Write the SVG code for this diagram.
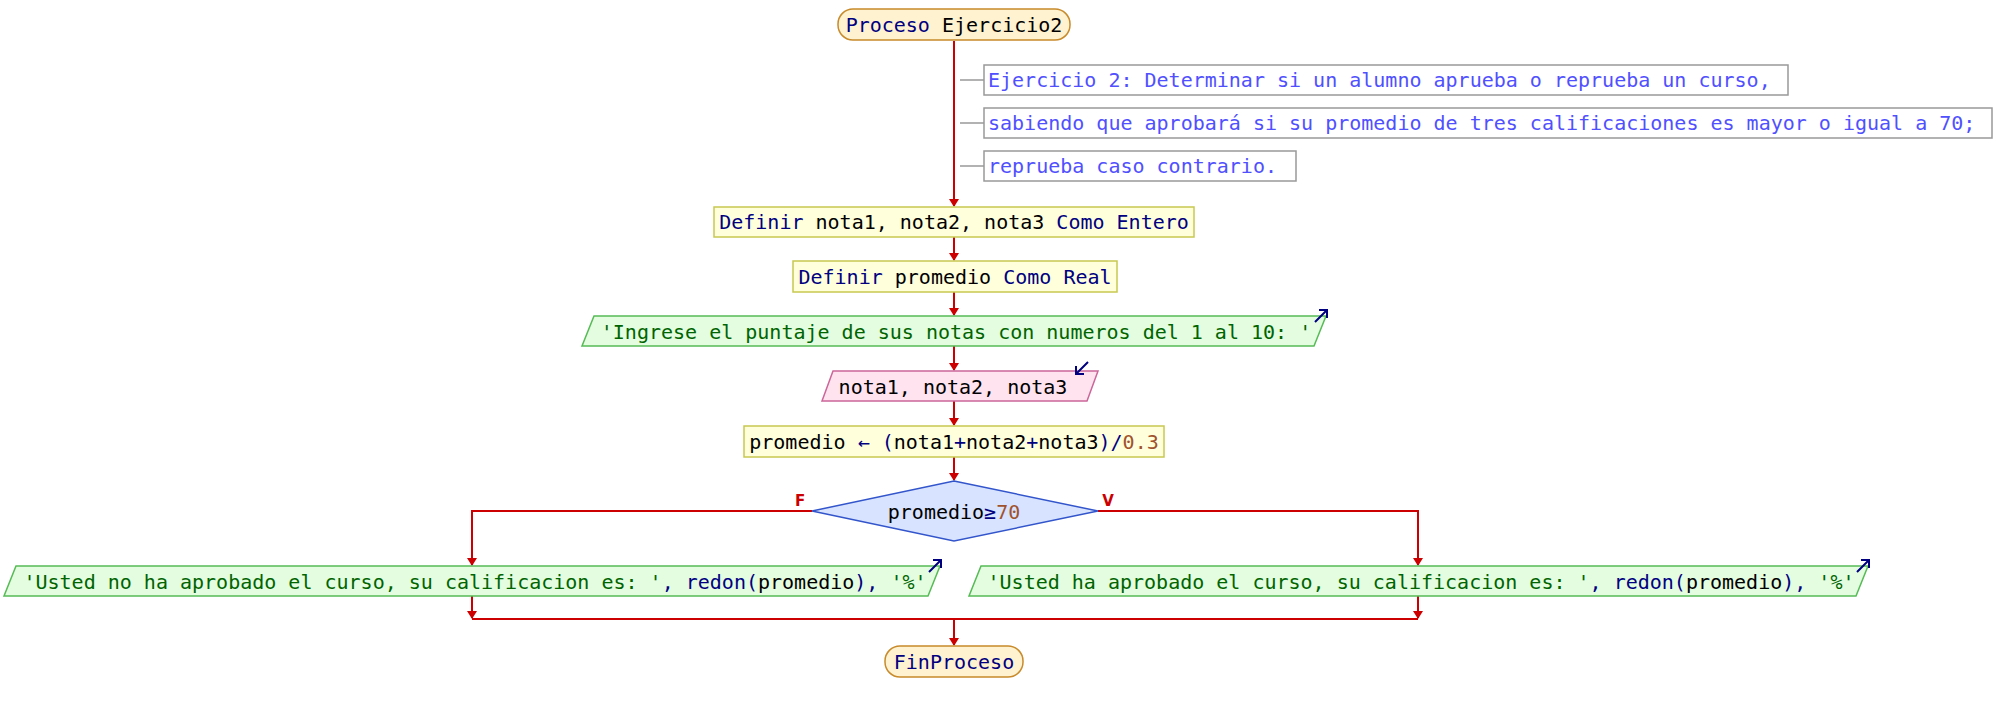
<svg xmlns="http://www.w3.org/2000/svg" width="2002" height="711" viewBox="0 0 2002 711">
<style>
text{font-family:"DejaVu Sans Mono","Liberation Mono",monospace;font-size:20px;fill:#000}
.c{text-anchor:middle}
.kw{fill:#000080}
.st{fill:#006400}
.nm{fill:#a0522d}
.cm{fill:#5050ff}
.term{fill:#fff2d0;stroke:#c88a2a;stroke-width:1.5}
.proc{fill:#ffffdc;stroke:#c8c850;stroke-width:1.5}
.out{fill:#e4fce0;stroke:#55bb55;stroke-width:1.5}
.in{fill:#ffe4f0;stroke:#cc6699;stroke-width:1.5}
.dec{fill:#d7e3ff;stroke:#3355cc;stroke-width:1.5}
.cbox{fill:#fff;stroke:#999;stroke-width:1.5}
.tick{stroke:#999;stroke-width:1.5}
.flow{fill:none;stroke:#cc0000;stroke-width:2}
.ico{fill:none;stroke:#000080;stroke-width:2}
.lbl{font-family:"DejaVu Sans","Liberation Sans",sans-serif;font-size:15px;font-weight:bold;fill:#cc0000}
</style>

<g id="connectors">
<path class="flow" d="M954,41 V206"/>
<path class="flow" d="M954,237 V260"/>
<path class="flow" d="M954,292 V315"/>
<path class="flow" d="M954,346 V370"/>
<path class="flow" d="M954,401 V425"/>
<path class="flow" d="M954,457 V480"/>
<path class="flow" d="M812,511 H472 V565"/>
<path class="flow" d="M1098,511 H1418 V565"/>
<path class="flow" d="M472,596 V618"/>
<path class="flow" d="M1418,596 V618"/>
<path class="flow" d="M472,619 H1418"/>
<path class="flow" d="M954,619 V645"/>
<g fill="#cc0000">
<path d="M949,199 L959,199 L954,207 Z"/>
<path d="M949,253 L959,253 L954,261 Z"/>
<path d="M949,308 L959,308 L954,316 Z"/>
<path d="M949,363 L959,363 L954,371 Z"/>
<path d="M949,418 L959,418 L954,426 Z"/>
<path d="M949,473 L959,473 L954,481 Z"/>
<path d="M467,558 L477,558 L472,566 Z"/>
<path d="M1413,558 L1423,558 L1418,566 Z"/>
<path d="M467,611 L477,611 L472,619 Z"/>
<path d="M1413,611 L1423,611 L1418,619 Z"/>
<path d="M949,638 L959,638 L954,646 Z"/>
</g>
<text class="lbl" x="800" y="506" text-anchor="middle">F</text>
<text class="lbl" x="1108" y="506" text-anchor="middle">V</text>
<path class="tick" d="M960,80 H984 M960,123 H984 M960,166 H984"/>
</g>

<g id="start">
<rect class="term" x="838" y="9" width="232" height="31" rx="15"/>
<text class="c" x="954" y="31.5"><tspan class="kw">Proceso</tspan> Ejercicio2</text>
</g>

<g id="comment1">
<rect class="cbox" x="984" y="65" width="804" height="30"/>
<text class="cm" x="988" y="87">Ejercicio 2: Determinar si un alumno aprueba o reprueba un curso,</text>
</g>
<g id="comment2">
<rect class="cbox" x="984" y="108" width="1008" height="30"/>
<text class="cm" x="988" y="130">sabiendo que aprobará si su promedio de tres calificaciones es mayor o igual a 70;</text>
</g>
<g id="comment3">
<rect class="cbox" x="984" y="151" width="312" height="30"/>
<text class="cm" x="988" y="173">reprueba caso contrario.</text>
</g>

<g id="def1">
<rect class="proc" x="714" y="207" width="480" height="30"/>
<text class="c" x="954" y="229"><tspan class="kw">Definir</tspan> nota1, nota2, nota3 <tspan class="kw">Como Entero</tspan></text>
</g>

<g id="def2">
<rect class="proc" x="793" y="261" width="324" height="31"/>
<text class="c" x="955" y="283.5"><tspan class="kw">Definir</tspan> promedio <tspan class="kw">Como Real</tspan></text>
</g>

<g id="write1">
<path class="out" d="M594,316 H1326 L1314,346 H582 Z"/>
<text class="c st" x="956" y="338.5">'Ingrese el puntaje de sus notas con numeros del 1 al 10: '</text>
<path class="ico" d="M1315,322 L1327,310 M1319,310 H1327 V318"/>
</g>

<g id="read1">
<path class="in" d="M833,371 H1098 L1087,401 H822 Z"/>
<text class="c" x="953" y="393.5">nota1, nota2, nota3</text>
<path class="ico" d="M1088,362 L1076,374 M1076,366 V374 H1084"/>
</g>

<g id="assign1">
<rect class="proc" x="744" y="426" width="420" height="31"/>
<text class="c" x="954" y="448.5">promedio <tspan class="kw">←</tspan> <tspan class="kw">(</tspan>nota1<tspan class="kw">+</tspan>nota2<tspan class="kw">+</tspan>nota3<tspan class="kw">)/</tspan><tspan class="nm">0.3</tspan></text>
</g>

<g id="decision">
<path class="dec" d="M954,481 L1098,511 L954,541 L812,511 Z"/>
<text class="c" x="954" y="518.5">promedio<tspan class="kw">≥</tspan><tspan class="nm">70</tspan></text>
</g>

<g id="writeF">
<path class="out" d="M16,566 H940 L928,596 H4 Z"/>
<text class="c" x="475" y="588.5"><tspan class="st">'Usted no ha aprobado el curso, su calificacion es: '</tspan><tspan class="kw">, redon(</tspan>promedio<tspan class="kw">), </tspan><tspan class="st">'%'</tspan></text>
<path class="ico" d="M929,572 L941,560 M933,560 H941 V568"/>
</g>

<g id="writeV">
<path class="out" d="M981,566 H1868 L1856,596 H969 Z"/>
<text class="c" x="1421" y="588.5"><tspan class="st">'Usted ha aprobado el curso, su calificacion es: '</tspan><tspan class="kw">, redon(</tspan>promedio<tspan class="kw">), </tspan><tspan class="st">'%'</tspan></text>
<path class="ico" d="M1857,572 L1869,560 M1861,560 H1869 V568"/>
</g>

<g id="end">
<rect class="term" x="885" y="646" width="138" height="31" rx="15"/>
<text class="c kw" x="954" y="668.5">FinProceso</text>
</g>
</svg>
